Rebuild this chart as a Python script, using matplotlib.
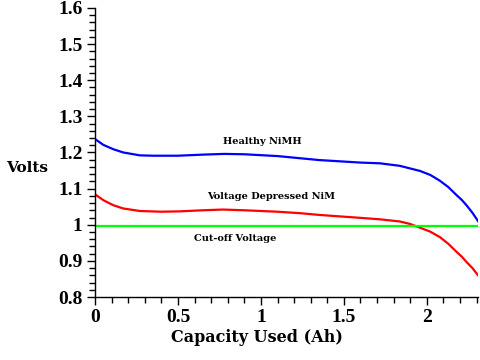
import matplotlib
matplotlib.use("Agg")
import matplotlib.pyplot as plt
from matplotlib.ticker import MultipleLocator

healthy_x = [0, 0.05, 0.11, 0.17, 0.27, 0.35, 0.5, 0.65, 0.78, 0.9, 1.1, 1.35, 1.6, 1.717, 1.837, 1.958, 2.02, 2.078, 2.13, 2.179, 2.21, 2.239, 2.275, 2.309]
healthy_y = [1.237, 1.221, 1.209, 1.200, 1.192, 1.191, 1.191, 1.194, 1.196, 1.195, 1.19, 1.179, 1.172, 1.170, 1.163, 1.149, 1.138, 1.122, 1.104, 1.082, 1.069, 1.054, 1.033, 1.010]

depressed_x = [0, 0.05, 0.11, 0.17, 0.27, 0.4, 0.51, 0.65, 0.77, 0.9, 1.1, 1.235, 1.355, 1.6, 1.717, 1.837, 1.9, 1.958, 2.02, 2.078, 2.13, 2.179, 2.21, 2.239, 2.275, 2.309]
depressed_y = [1.084, 1.068, 1.054, 1.045, 1.038, 1.036, 1.037, 1.040, 1.042, 1.04, 1.036, 1.032, 1.027, 1.019, 1.015, 1.009, 1.002, 0.992, 0.981, 0.966, 0.947, 0.925, 0.912, 0.897, 0.880, 0.860]

cutoff_x = [0, 2.309]
cutoff_y = [0.997, 0.997]

x_ticks = [0, 0.5, 1, 1.5, 2]
x_tick_labels = ["0", "0.5", "1", "1.5", "2"]
y_ticks = [0.8, 0.9, 1.0, 1.1, 1.2, 1.3, 1.4, 1.5, 1.6]
y_tick_labels = ["0.8", "0.9", "1", "1.1", "1.2", "1.3", "1.4", "1.5", "1.6"]

fig = plt.figure(figsize=(4.8, 3.6), dpi=100)
ax = fig.add_axes([0.198, 0.175, 0.798, 0.803])

ax.plot(healthy_x, healthy_y, color="#0000ff", lw=1.6)
ax.plot(depressed_x, depressed_y, color="#ff0000", lw=1.6)
ax.plot(cutoff_x, cutoff_y, color="#00ff00", lw=1.6)

ax.set_xlim(0, 2.309)
ax.set_ylim(0.8, 1.6)

for s in ["top", "right"]:
    ax.spines[s].set_visible(False)
for s in ["left", "bottom"]:
    ax.spines[s].set_linewidth(1.0)

ax.set_xticks(x_ticks)
ax.set_xticklabels(x_tick_labels)
ax.set_yticks(y_ticks)
ax.set_yticklabels(y_tick_labels)
ax.xaxis.set_minor_locator(MultipleLocator(0.1))
ax.yaxis.set_minor_locator(MultipleLocator(0.02))
ax.tick_params(axis="both", which="major", length=6, width=1, direction="out", pad=3)
ax.tick_params(axis="both", which="minor", length=4, width=1, direction="out")

for lab in ax.get_xticklabels() + ax.get_yticklabels():
    lab.set_family("Liberation Serif")
    lab.set_fontweight("bold")
    lab.set_fontsize(14)

fig.text(0.012, 0.533, "Volts", family="DejaVu Serif", fontweight="bold", fontsize=11, ha="left", va="center")
fig.text(0.535, 0.062, "Capacity Used (Ah)", family="DejaVu Serif", fontweight="bold", fontsize=11.5, ha="center", va="center")

ax.text(1.011, 1.229, "Healthy NiMH", family="DejaVu Serif", fontweight="bold", fontsize=7, ha="center", va="center")
ax.text(1.06, 1.077, "Voltage Depressed NiM", family="DejaVu Serif", fontweight="bold", fontsize=7, ha="center", va="center")
ax.text(0.846, 0.962, "Cut-off Voltage", family="DejaVu Serif", fontweight="bold", fontsize=7, ha="center", va="center")

fig.savefig("out.png", dpi=100)
